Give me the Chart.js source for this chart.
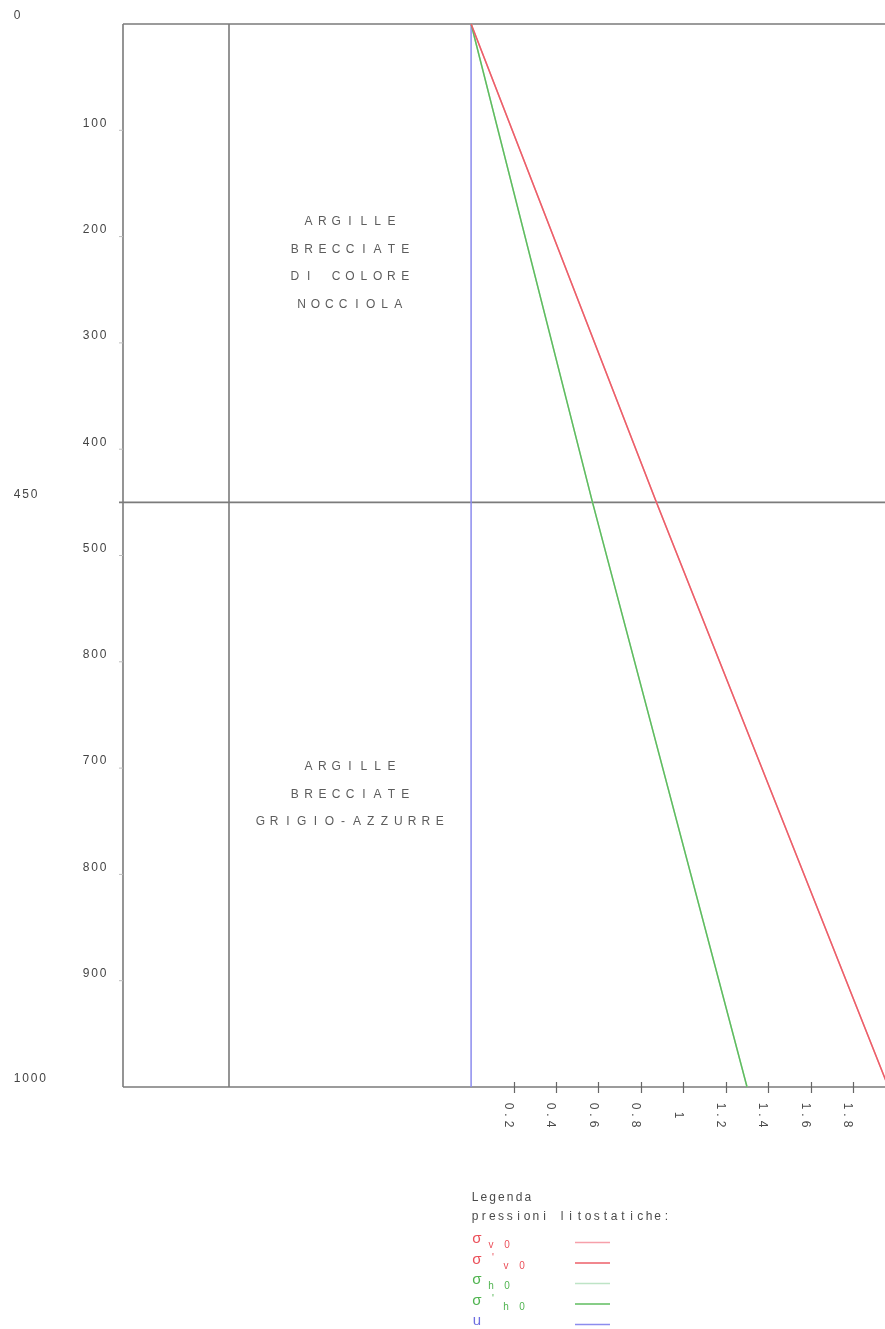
<!DOCTYPE html>
<html>
<head>
<meta charset="utf-8">
<script src="https://cdn.jsdelivr.net/npm/chart.js@4.4.0/dist/chart.umd.min.js"></script>
<style>
  html, body { margin: 0; padding: 0; background: #fff; }
  canvas { display: block; }
</style>
</head>
<body>
<canvas id="myChart" width="885" height="1329"></canvas>
<script>
// depth (cm) at layer boundaries, pressures (kg/cm2) read at those depths
const depths = [0, 450, 1000];
const sigmaV0 = [0, 0.873, 1.966];
const sigmaV0Eff = [0, 0.873, 1.966];
const sigmaH0 = [0, 0.572, 1.300];
const sigmaH0Eff = [0, 0.572, 1.300];
const poreU = [0, 0, 0];

const depthTicks = [100, 200, 300, 400, 500, 600, 700, 800, 900];
const depthTickLabels = ['100', '200', '300', '400', '500', '800', '700', '800', '900'];
const boundaryTicks = [0, 450, 1000];
const pressureTicks = [0.2, 0.4, 0.6, 0.8, 1, 1.2, 1.4, 1.6, 1.8];
const pressureTickLabels = ['0.2', '0.4', '0.6', '0.8', '1', '1.2', '1.4', '1.6', '1.8'];

const layerNames = [
  ['ARGILLE', 'BRECCIATE', 'DI COLORE', 'NOCCIOLA'],
  ['ARGILLE', 'BRECCIATE', 'GRIGIO-AZZURRE']
];

const legendItems = [
  { sym: 'σ', sub: 'v 0', prime: false },
  { sym: 'σ', sub: 'v 0', prime: true },
  { sym: 'σ', sub: 'h 0', prime: false },
  { sym: 'σ', sub: 'h 0', prime: true },
  { sym: 'u', sub: '', prime: false }
];

const FONT = '"Liberation Sans", Arial, sans-serif';
const FRAME = '#7b7b7b';

function pts(values) {
  return values.map((v, i) => ({ x: v, y: depths[i] }));
}

// draw text with a fixed character pitch, like a CAD font
function spaced(ctx, text, x, y, pitch, align) {
  const total = pitch * (text.length - 1);
  let start = x;
  if (align === 'center') start = x - total / 2;
  if (align === 'right') start = x - total;
  ctx.textAlign = 'center';
  for (let i = 0; i < text.length; i++) {
    ctx.fillText(text[i], start + i * pitch, y);
  }
}

const sectionPlugin = {
  id: 'section',
  beforeDatasetsDraw(chart) {
    const ctx = chart.ctx;
    const a = chart.chartArea;
    const y = chart.scales.y;
    ctx.save();
    ctx.strokeStyle = FRAME;
    ctx.lineWidth = 1.6;
    ctx.beginPath();
    boundaryTicks.forEach((d, i) => {
      const py = y.getPixelForValue(d);
      ctx.moveTo(i === 1 ? a.left - 4 : a.left, py);
      ctx.lineTo(a.right, py);
    });
    ctx.moveTo(a.left, a.top);
    ctx.lineTo(a.left, a.bottom);
    ctx.moveTo(a.left + 106, a.top);
    ctx.lineTo(a.left + 106, a.bottom);
    ctx.stroke();

    ctx.lineWidth = 1;
    ctx.strokeStyle = '#bdbdbd';
    ctx.beginPath();
    depthTicks.forEach(d => {
      const py = y.getPixelForValue(d);
      ctx.moveTo(a.left - 4, py);
      ctx.lineTo(a.left, py);
    });
    ctx.stroke();

    // layer descriptions centred in each layer
    ctx.fillStyle = '#5c5c5c';
    ctx.font = '12px ' + FONT;
    ctx.textBaseline = 'middle';
    const cx = a.left + 227;
    layerNames.forEach((lines, i) => {
      const mid = y.getPixelForValue((boundaryTicks[i] + boundaryTicks[i + 1]) / 2);
      const step = 27.5;
      lines.forEach((t, j) => {
        spaced(ctx, t, cx, mid + (j - (lines.length - 1) / 2) * step, 13.8, 'center');
      });
    });
    ctx.restore();
  },
  afterDraw(chart) {
    const ctx = chart.ctx;
    const a = chart.chartArea;
    const x = chart.scales.x;
    const y = chart.scales.y;
    ctx.save();

    // pressure axis ticks
    ctx.strokeStyle = '#666';
    ctx.lineWidth = 1.2;
    ctx.beginPath();
    pressureTicks.forEach(v => {
      const px = Math.round(x.getPixelForValue(v)) + 0.5;
      ctx.moveTo(px, a.bottom - 5);
      ctx.lineTo(px, a.bottom + 6);
    });
    ctx.stroke();

    ctx.fillStyle = '#4a4a4a';
    ctx.font = '12px ' + FONT;
    ctx.textBaseline = 'middle';
    pressureTicks.forEach((v, i) => {
      ctx.save();
      ctx.translate(x.getPixelForValue(v) - 5.5, a.bottom + 28);
      ctx.rotate(Math.PI / 2);
      spaced(ctx, pressureTickLabels[i], 0, 0, 9, 'center');
      ctx.restore();
    });

    // depth labels
    ctx.fillStyle = '#444';
    ctx.font = '12px ' + FONT;
    depthTicks.forEach((d, i) => {
      spaced(ctx, depthTickLabels[i], 103, y.getPixelForValue(d) - 7, 8.5, 'right');
    });
    boundaryTicks.forEach(d => {
      spaced(ctx, String(d), 17, y.getPixelForValue(d) - 8, 8.5, 'left');
    });

    // legend
    ctx.fillStyle = '#4a4a4a';
    ctx.font = '12px ' + FONT;
    spaced(ctx, 'Legenda', 475, 1198, 8.8, 'left');
    spaced(ctx, 'pressioni litostatiche:', 475, 1217, 8.7, 'left');
    const ds = chart.data.datasets;
    legendItems.forEach((it, i) => {
      const ly = 1242 + i * 20.5;
      ctx.fillStyle = ds[i].legendColor;
      ctx.font = '15px ' + FONT;
      ctx.textAlign = 'center';
      ctx.fillText(it.sym, 477, ly - 3);
      ctx.font = '10px ' + FONT;
      if (it.prime) {
        ctx.fillText("'", 493, ly - 4);
        spaced(ctx, it.sub, 506, ly + 4, 8, 'left');
      } else if (it.sub) {
        spaced(ctx, it.sub, 491, ly + 3, 8, 'left');
      }
      ctx.strokeStyle = ds[i].borderColor;
      ctx.lineWidth = 1.3;
      ctx.beginPath();
      ctx.moveTo(575, ly + 0.5);
      ctx.lineTo(610, ly + 0.5);
      ctx.stroke();
    });
    ctx.restore();
  }
};

const ctx = document.getElementById('myChart').getContext('2d');
const chart = new Chart(ctx, {
  type: 'line',
  data: {
    datasets: [
      { label: 'σv0', data: pts(sigmaV0), borderColor: 'rgb(246,160,170)', legendColor: 'rgb(235,80,90)', order: 2 },
      { label: "σ'v0", data: pts(sigmaV0Eff), borderColor: 'rgb(236,95,105)', legendColor: 'rgb(235,80,90)', order: 1 },
      { label: 'σh0', data: pts(sigmaH0), borderColor: 'rgb(190,228,198)', legendColor: 'rgb(80,180,80)', order: 2 },
      { label: "σ'h0", data: pts(sigmaH0Eff), borderColor: 'rgb(95,188,95)', legendColor: 'rgb(80,180,80)', order: 1 },
      { label: 'u', data: pts(poreU), borderColor: 'rgb(140,140,238)', legendColor: 'rgb(110,110,225)', order: 1 }
    ]
  },
  options: {
    responsive: false,
    animation: false,
    layout: { padding: { left: 123, top: 24, right: 0, bottom: 242 } },
    elements: {
      point: { radius: 0 },
      line: { borderWidth: 1.5, tension: 0 }
    },
    plugins: { legend: { display: false }, tooltip: { enabled: false } },
    scales: {
      x: { type: 'linear', min: -1.64, max: 1.95, display: false },
      y: { type: 'linear', min: 0, max: 1000, reverse: true, display: false }
    }
  },
  plugins: [sectionPlugin]
});
</script>
</body>
</html>
